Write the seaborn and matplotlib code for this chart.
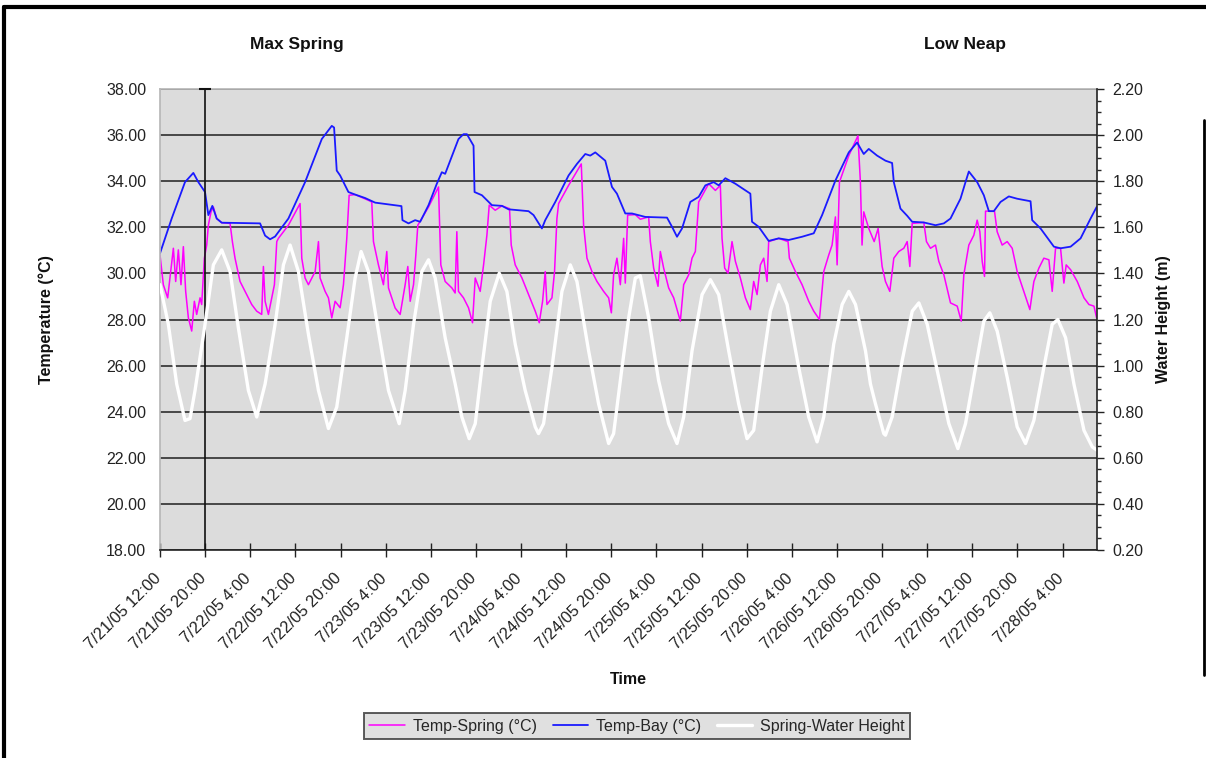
import numpy as np
import pandas as pd
import seaborn as sns
import matplotlib
matplotlib.use('Agg')
import matplotlib.pyplot as plt
import matplotlib.dates as mdates
import matplotlib.transforms as mtransforms
from matplotlib.lines import Line2D
from matplotlib.ticker import FuncFormatter, MultipleLocator

# start of the record, values below are hours after it
start = pd.Timestamp('2005-07-21 12:00')
end_hours = 166.1
marker_time = pd.Timestamp('2005-07-21 20:00')

spring_hours = [0, 0.59, 1.36, 1.77, 2.37, 2.78, 3.25, 3.72, 4.14, 4.55, 5.03, 5.62, 6.09, 6.5, 7.1,
                7.39, 7.86, 8.28, 8.57, 9.05, 9.46, 10.05, 10.94, 12.42, 12.83, 13.3, 14.19, 15.08,
                16.26, 17.15, 18.03, 18.33, 18.63, 19.22, 19.81, 20.28, 20.7, 20.99, 22.76, 24.83,
                25.13, 25.72, 26.31, 27.5, 28.09, 28.38, 29.27, 29.86, 30.45, 31.04, 31.93, 32.52,
                33.11, 33.53, 34.59, 36.95, 37.54, 37.84, 38.72, 39.61, 40.2, 40.5, 41.68, 42.57,
                43.46, 43.93, 44.35, 44.94, 45.35, 45.7, 47.6, 49.37, 49.78, 50.55, 51.74, 52.32,
                52.62, 52.91, 53.8, 54.69, 55.4, 55.88, 56.76, 57.36, 57.95, 58.36, 59.42, 60.61,
                61.96, 62.26, 62.97, 64.16, 65.33, 66.52, 67.23, 67.82, 68.29, 68.59, 69.48, 69.94,
                70.36, 70.66, 72.43, 74.68, 75.09, 75.69, 76.57, 77.46, 78.64, 79.53, 80.01, 80.41,
                81.0, 81.6, 82.19, 82.48, 82.9, 84.26, 85.14, 86.62, 86.92, 87.51, 88.28, 88.69,
                89.28, 90.17, 91.06, 92.24, 92.83, 93.72, 94.31, 94.9, 95.49, 97.26, 98.45, 99.33,
                99.63, 100.1, 100.69, 101.4, 102.0, 102.88, 103.77, 104.65, 105.24, 105.84, 106.43,
                107.02, 107.61, 107.9, 109.68, 111.33, 111.57, 112.64, 113.82, 115.0, 115.89, 116.9,
                117.66, 118.55, 119.14, 119.73, 120.03, 120.44, 122.1, 123.72, 124.16, 124.45,
                124.75, 125.64, 126.6, 127.3, 128.01, 128.6, 129.37, 130.08, 130.96, 131.85, 132.45,
                132.92, 133.34, 135.4, 135.87, 136.58, 137.47, 138.06, 138.95, 140.13, 141.32,
                142.03, 142.49, 143.38, 144.27, 144.86, 145.33, 145.75, 146.16, 146.34, 147.93,
                148.4, 149.29, 150.18, 151.07, 151.95, 153.13, 154.2, 154.91, 155.8, 156.68, 157.57,
                158.16, 158.75, 159.64, 160.23, 160.64, 161.42, 162.6, 163.79, 164.67, 165.56, 166.03]
spring_temp = [30.8, 29.51, 28.94, 29.8, 31.09, 29.65, 31.02, 29.51, 31.16, 29.22, 28.07, 27.5, 28.79,
               28.22, 28.94, 28.65, 30.66, 31.23, 32.09, 32.67, 32.88, 32.38, 32.2, 32.17, 31.38,
               30.66, 29.65, 29.22, 28.65, 28.36, 28.22, 30.3, 28.79, 28.22, 28.94, 29.51, 31.38,
               31.52, 32.09, 33.03, 30.66, 29.8, 29.51, 30.08, 31.38, 29.8, 29.22, 28.94, 28.07,
               28.79, 28.51, 29.51, 31.52, 33.39, 33.42, 33.17, 33.1, 31.38, 30.37, 29.51, 30.95,
               29.37, 28.5, 28.22, 29.51, 30.3, 28.79, 29.51, 30.8, 32.09, 32.88, 33.75, 30.37,
               29.65, 29.37, 29.15, 31.81, 29.22, 28.94, 28.51, 27.86, 29.8, 29.22, 30.37, 31.66,
               32.96, 32.74, 32.93, 32.81, 31.23, 30.37, 29.8, 29.08, 28.36, 27.86, 28.79, 30.08,
               28.65, 28.94, 30.08, 32.38, 33.03, 33.82, 34.75, 32.09, 30.66, 30.08, 29.65, 29.22,
               28.94, 28.29, 29.94, 30.66, 29.51, 31.52, 29.58, 32.53, 32.55, 32.35, 32.45, 31.38,
               30.23, 29.44, 30.95, 30.23, 29.37, 28.94, 27.93, 29.51, 29.94, 30.66, 30.95, 33.1,
               33.89, 33.6, 33.82, 31.52, 30.23, 30.01, 31.38, 30.52, 29.8, 28.94, 28.43, 29.65,
               29.08, 30.37, 30.66, 29.65, 31.38, 31.52, 31.38, 30.66, 30.08, 29.51, 28.79, 28.36,
               28.0, 30.08, 30.8, 31.23, 32.45, 30.37, 33.96, 35.11, 35.97, 33.96, 31.23, 32.67,
               31.95, 31.38, 31.95, 30.3, 29.65, 29.22, 30.66, 30.95, 31.09, 31.38, 30.3, 32.17,
               32.21, 31.38, 31.09, 31.23, 30.52, 29.94, 28.72, 28.58, 27.93, 29.94, 31.23, 31.66,
               32.31, 31.81, 30.52, 29.87, 32.7, 32.7, 31.81, 31.23, 31.38, 31.09, 30.08, 29.22,
               28.43, 29.65, 30.23, 30.66, 30.59, 29.22, 31.09, 31.09, 29.58, 30.37, 30.16, 29.65,
               28.94, 28.65, 28.58, 28.07]

bay_hours = [0, 2.07, 4.43, 5.91, 6.8, 7.98, 8.57, 9.28, 10.05, 10.94, 17.74, 18.63, 19.51, 20.4,
             22.76, 25.72, 28.68, 30.45, 30.86, 31.33, 31.93, 33.4, 34.59, 36.36, 38.14, 42.8,
             42.98, 44.05, 45.23, 46.12, 47.6, 49.07, 49.96, 50.55, 51.44, 52.91, 53.8, 54.4, 55.58,
             55.76, 57.07, 58.84, 60.61, 61.79, 65.33, 66.22, 67.7, 68.29, 70.07, 72.43, 73.91,
             75.39, 76.27, 77.16, 78.93, 80.12, 81.0, 82.48, 83.67, 86.03, 89.88, 90.77, 91.65,
             92.54, 94.01, 95.49, 96.68, 98.15, 99.04, 100.22, 102.0, 104.65, 104.95, 106.13, 107.9,
             109.68, 111.45, 113.82, 115.89, 117.37, 119.73, 122.1, 123.57, 124.75, 125.64, 127.12,
             128.6, 129.78, 130.08, 131.26, 132.45, 133.34, 135.4, 137.47, 138.95, 140.13, 141.9,
             142.79, 143.38, 144.86, 146.04, 146.93, 147.81, 149.0, 150.47, 151.95, 154.32, 154.61,
             156.09, 158.46, 159.64, 161.42, 163.19, 164.96, 166.03]
bay_temp = [30.87, 32.38, 33.96, 34.36, 33.96, 33.53, 32.53, 32.93, 32.38, 32.2, 32.17, 31.64,
            31.48, 31.6, 32.38, 33.96, 35.83, 36.4, 36.33, 34.46, 34.25, 33.53, 33.42, 33.27, 33.07,
            32.92, 32.31, 32.17, 32.31, 32.24, 32.96, 33.89, 34.39, 34.32, 34.89, 35.83, 36.04,
            36.04, 35.54, 33.53, 33.39, 32.96, 32.93, 32.78, 32.7, 32.53, 31.95, 32.31, 33.1,
            34.25, 34.75, 35.18, 35.11, 35.25, 34.89, 33.75, 33.46, 32.6, 32.6, 32.45, 32.42,
            32.02, 31.59, 31.95, 33.1, 33.32, 33.82, 33.96, 33.82, 34.13, 33.89, 33.46, 32.24,
            32.02, 31.41, 31.52, 31.45, 31.59, 31.74, 32.53, 34.03, 35.25, 35.68, 35.18, 35.4,
            35.11, 34.89, 34.79, 33.96, 32.81, 32.5, 32.24, 32.21, 32.09, 32.17, 32.38, 33.24,
            33.96, 34.42, 33.96, 33.39, 32.7, 32.7, 33.1, 33.34, 33.24, 33.13, 32.31, 31.95, 31.16,
            31.09, 31.16, 31.52, 32.38, 32.88]

height_hours = [0, 1.48, 2.96, 4.43, 5.32, 6.21, 7.98, 9.46, 10.94, 12.42, 13.89, 15.67, 17.15,
                18.63, 20.4, 21.88, 23.06, 24.54, 26.31, 28.09, 29.86, 31.33, 33.11, 34.59, 35.65,
                36.95, 38.72, 40.5, 42.4, 43.46, 44.94, 46.42, 47.6, 48.78, 50.55, 52.33, 53.51,
                54.81, 55.88, 57.07, 58.54, 60.14, 61.49, 62.97, 64.74, 66.52, 67.1, 67.99, 69.48,
                71.25, 72.73, 73.91, 75.98, 77.75, 79.53, 80.41, 81.9, 83.08, 84.26, 85.14, 86.62,
                88.39, 90.17, 91.65, 92.83, 94.31, 96.09, 97.56, 99.04, 100.81, 102.58, 104.06,
                105.24, 106.73, 108.2, 109.68, 111.16, 113.22, 115.0, 116.48, 117.66, 119.43,
                120.92, 122.1, 123.29, 125.06, 125.94, 126.83, 128.3, 128.6, 129.78, 131.56, 133.34,
                134.52, 136.0, 137.78, 139.84, 141.44, 142.79, 144.57, 146.04, 147.1, 148.4, 150.18,
                151.95, 153.43, 154.91, 156.68, 158.16, 159.16, 160.53, 162.01, 163.79, 165.27,
                166.1]
height_m = [1.351, 1.179, 0.92, 0.762, 0.77, 0.892, 1.179, 1.437, 1.502, 1.408, 1.164, 0.892, 0.777,
            0.92, 1.179, 1.437, 1.523, 1.408, 1.136, 0.892, 0.727, 0.82, 1.121, 1.38, 1.495, 1.408,
            1.15, 0.892, 0.748, 0.892, 1.179, 1.408, 1.459, 1.38, 1.121, 0.92, 0.777, 0.683, 0.748,
            0.992, 1.279, 1.401, 1.322, 1.093, 0.892, 0.734, 0.705, 0.748, 0.992, 1.322, 1.437,
            1.365, 1.064, 0.834, 0.662, 0.705, 0.992, 1.207, 1.38, 1.39, 1.207, 0.935, 0.748, 0.662,
            0.777, 1.064, 1.308, 1.373, 1.308, 1.064, 0.834, 0.683, 0.719, 0.992, 1.236, 1.351,
            1.265, 0.992, 0.777, 0.669, 0.777, 1.093, 1.265, 1.322, 1.265, 1.064, 0.92, 0.834,
            0.705, 0.698, 0.777, 1.021, 1.236, 1.272, 1.179, 0.978, 0.748, 0.64, 0.748, 0.992,
            1.193, 1.229, 1.15, 0.949, 0.734, 0.662, 0.762, 0.992, 1.179, 1.2, 1.121, 0.92, 0.719,
            0.647, 0.633]

spring = pd.DataFrame({'time': start + pd.to_timedelta(spring_hours, unit='h'), 'value': spring_temp})
bay = pd.DataFrame({'time': start + pd.to_timedelta(bay_hours, unit='h'), 'value': bay_temp})
height = pd.DataFrame({'time': start + pd.to_timedelta(height_hours, unit='h'), 'value': height_m})
tick_times = pd.date_range(start, periods=21, freq='8h')

sns.set_theme(style='white')
plt.rcParams['font.family'] = ['Liberation Sans', 'DejaVu Sans']

fig = plt.figure(figsize=(12.06, 7.58), dpi=100)
ax = fig.add_axes([160 / 1206, 1 - 550 / 758, 937 / 1206, 461 / 758])
ax.set_facecolor('#dcdcdc')
ax2 = ax.twinx()
ax2.set_zorder(ax.get_zorder() + 1)
ax2.patch.set_visible(False)

sns.lineplot(data=spring, x='time', y='value', ax=ax, color='#ff00ff', lw=1.1,
             estimator=None, sort=False, label='Temp-Spring (°C)', legend=False)
sns.lineplot(data=bay, x='time', y='value', ax=ax, color='#1a1aff', lw=1.3,
             estimator=None, sort=False, label='Temp-Bay (°C)', legend=False)
sns.lineplot(data=height, x='time', y='value', ax=ax2, color='white', lw=2.4,
             estimator=None, sort=False, label='Spring-Water Height', legend=False)
for ln in ax.get_lines() + ax2.get_lines():
    ln.set_solid_joinstyle('round')

# left axis
ax.set_ylim(18, 38)
ax.set_yticks(np.arange(18, 38.1, 2))
ax.yaxis.set_major_formatter(FuncFormatter(lambda v, p: f'{v:.2f}'))
ax.yaxis.grid(True, color='#2e2e2e', lw=1.2)
ax.tick_params(axis='y', length=0, pad=10, labelsize=11.5, colors='#222222')
ax.set_ylabel('Temperature (°C)', fontsize=11.5, fontweight='bold', color='#111111')
ax.yaxis.set_label_coords(-0.113, 0.5)

# right axis
ax2.set_ylim(0.2, 2.2)
ax2.yaxis.set_major_locator(MultipleLocator(0.2))
ax2.yaxis.set_minor_locator(MultipleLocator(0.05))
ax2.yaxis.set_major_formatter(FuncFormatter(lambda v, p: f'{v:.2f}'))
ax2.tick_params(axis='y', which='major', direction='out', length=5, width=1, pad=6,
                labelsize=11.5, colors='#222222', right=True)
ax2.tick_params(axis='y', which='minor', direction='out', length=3, width=1, right=True)
ax2.set_ylabel('Water Height (m)', fontsize=11.5, fontweight='bold', color='#111111')
ax2.yaxis.set_label_coords(1.063, 0.5)

# time axis
ax.set_xlim(start, start + pd.Timedelta(hours=end_hours))
ax.set_xticks(tick_times)
ax.xaxis.set_major_formatter(FuncFormatter(
    lambda v, p: (lambda d: f'{d.month}/{d.day}/{d:%y} {d.hour}:{d:%M}')(mdates.num2date(v))))
ax.tick_params(axis='x', direction='inout', length=10, width=1, pad=10, labelsize=11.8,
               colors='#222222', bottom=True)
shift = mtransforms.ScaledTranslation(-7 / 100, 0, fig.dpi_scale_trans)
for lab in ax.get_xticklabels():
    lab.set_rotation(45)
    lab.set_ha('right')
    lab.set_va('top')
    lab.set_rotation_mode('anchor')
    lab.set_transform(lab.get_transform() + shift)
ax.set_xlabel('Time', fontsize=11.5, fontweight='bold', color='#111111')
ax.xaxis.set_label_coords(0.4995, -0.265)

for s in ['top', 'left']:
    ax.spines[s].set_color('#b8b8b8')
ax.spines['right'].set_visible(False)
ax.spines['bottom'].set_color('#222222')
ax.spines['bottom'].set_linewidth(1.2)
for s in ['top', 'left', 'bottom']:
    ax2.spines[s].set_visible(False)
ax2.spines['right'].set_color('#222222')
ax2.spines['right'].set_linewidth(1.2)

# vertical marker
ax.axvline(marker_time, color='#111111', lw=1.2, zorder=5)
ax.hlines(38, marker_time - pd.Timedelta(hours=1.1), marker_time + pd.Timedelta(hours=1.1),
          color='#111111', lw=1.5, zorder=5, clip_on=False)

fig.text(297 / 1206, 1 - 44 / 758, 'Max Spring', ha='center', va='center',
         fontsize=12.5, fontweight='bold', color='#111111')
fig.text(965 / 1206, 1 - 44 / 758, 'Low Neap', ha='center', va='center',
         fontsize=12.5, fontweight='bold', color='#111111')

handles = ax.get_lines()[:2] + ax2.get_lines()[:1]
leg = fig.legend(handles, [h.get_label() for h in handles], loc='center',
                 bbox_to_anchor=(637 / 1206, 1 - 726 / 758), ncol=3, fontsize=11.5,
                 frameon=True, fancybox=False, facecolor='#d9d9d9', edgecolor='#333333',
                 handlelength=2.2, columnspacing=1.0, handletextpad=0.5, borderpad=0.35)
leg.get_frame().set_linewidth(1.4)

# outer black frame of the picture
fig.add_artist(Line2D([4 / 1206, 1], [1 - 7 / 758, 1 - 7 / 758], transform=fig.transFigure,
                      color='black', lw=3))
fig.add_artist(Line2D([4 / 1206, 4 / 1206], [0, 1 - 7 / 758], transform=fig.transFigure,
                      color='black', lw=3))
fig.add_artist(Line2D([1204 / 1206, 1204 / 1206], [1 - 675 / 758, 1 - 120 / 758],
                      transform=fig.transFigure, color='black', lw=2))

fig.savefig('out.png', dpi=100)
